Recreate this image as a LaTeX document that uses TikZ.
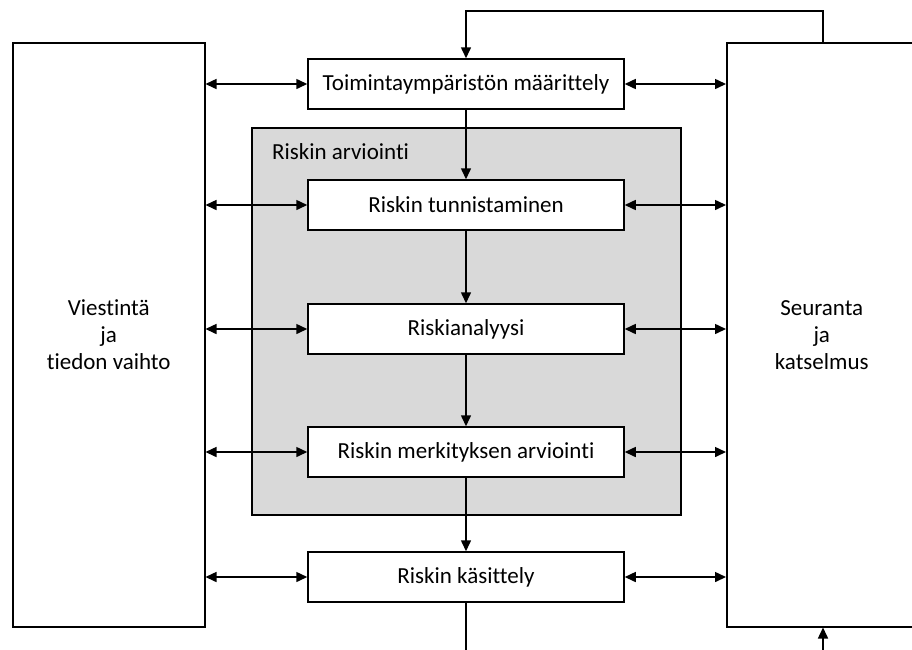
\documentclass[tikz,border=0pt]{standalone}
\usepackage{fontspec}
\setmainfont[Ligatures=NoCommon]{Carlito}
\usetikzlibrary{arrows.meta,positioning,calc}
\begin{document}
\begin{tikzpicture}[x=1pt,y=-1pt,
  line width=1.5pt,
  every node/.style={font=\fontsize{23}{27}\selectfont},
  proc/.style={draw, fill=white, minimum width=316pt, minimum height=50pt, inner sep=0pt},
  side/.style={draw, fill=white, inner sep=0pt, align=center},
  tip/.style={-{Triangle[length=11pt,width=10pt]}},
  bitip/.style={{Triangle[length=11pt,width=10pt]}-{Triangle[length=11pt,width=10pt]}}]
  \useasboundingbox (0,0) rectangle (912,649);

  % assessment group background
  \node[draw, fill={rgb,255:red,217;green,217;blue,217}, minimum width=429pt, minimum height=387pt,
        inner sep=0pt, anchor=north west] (group) at (251,127) {};
  \node[anchor=west] (grouplbl) at (268,152) {Riskin arviointi};

  % side boxes
  \node[side, minimum width=192pt, minimum height=584pt, anchor=north west] (comm) at (12,42)
    {Viestintä\\ja\\tiedon vaihto};
  \node[side, minimum width=200pt, minimum height=584pt, anchor=north west] (mon) at (726,42)
    {\hspace*{-10pt}Seuranta\\\hspace*{-10pt}ja\\\hspace*{-10pt}katselmus};

  % process steps
  \node[proc] (ctx)  at (466,84)  {Toimintaympäristön määrittely};
  \node[proc] (ident) at (466,205) {Riskin tunnistaminen};
  \node[proc] (anal) at (466,329) {Riskianalyysi};
  \node[proc] (eval) at (466,452) {Riskin merkityksen arviointi};
  \node[proc] (treat) at (466,577) {Riskin käsittely};

  % main flow
  \draw[tip] (ctx) -- (ident);
  \draw[tip] (ident) -- (anal);
  \draw[tip] (anal) -- (eval);
  \draw[tip] (eval) -- (treat);
  \coordinate (outend) at (466,652);
  \draw (treat) -- (outend);

  % feedback from monitoring to context
  \coordinate (fbtop) at (823,11);
  \draw[tip] (mon.north -| fbtop) -- (fbtop) -| (ctx.north);
  \coordinate (inbot) at (823,652);
  \draw[tip] (inbot) -- (mon.south -| inbot);

  % exchanges with the side boxes
  \foreach \s in {ctx,ident,anal,eval,treat}{
    \draw[bitip] (comm.east |- \s.west) -- (\s.west);
    \draw[bitip] (\s.east) -- (mon.west |- \s.east);
  }
\end{tikzpicture}
\end{document}
